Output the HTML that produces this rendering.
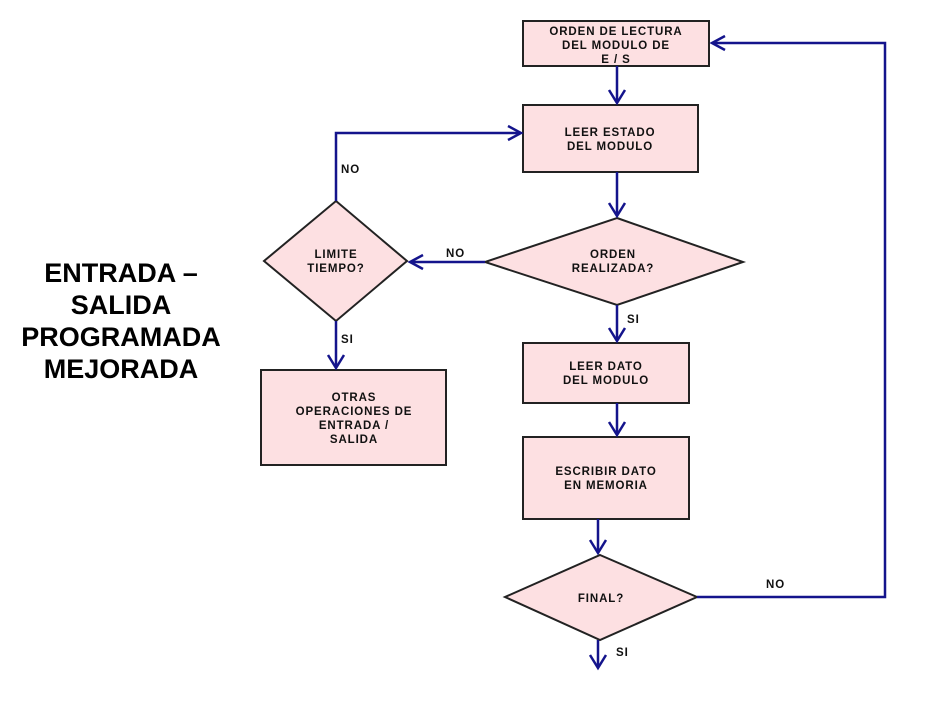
<!DOCTYPE html>
<html><head><meta charset="utf-8"><style>
html,body{margin:0;padding:0;background:#fff;}
svg{display:block;}
text{font-family:"Liberation Sans",sans-serif;font-weight:bold;}
.s{letter-spacing:0.9px;}
</style></head><body>
<svg width="937" height="704" viewBox="0 0 937 704" xmlns="http://www.w3.org/2000/svg">
<g fill="#fde0e2" stroke="#222" stroke-width="2">
<rect x="523" y="21" width="186" height="45"/>
<rect x="523" y="105" width="175" height="67"/>
<polygon points="617,218 743,262 617,305 485,262"/>
<polygon points="336,201 407,261 336,321 264,261"/>
<rect x="261" y="370" width="185" height="95"/>
<rect x="523" y="343" width="166" height="60"/>
<rect x="523" y="437" width="166" height="82"/>
<polygon points="600,555 697,597 600,640 505,597"/>
</g>
<g stroke="#14148c" stroke-width="2.5" fill="none">
<line x1="617" y1="66" x2="617" y2="103"/>
<polyline points="609,90 617,103 625,90"/>
<line x1="617" y1="172" x2="617" y2="216"/>
<polyline points="609,203 617,216 625,203"/>
<line x1="485" y1="262" x2="410" y2="262"/>
<polyline points="423,255 410,262 423,269"/>
<polyline points="336,201 336,133 521,133"/>
<polyline points="508,126 521,133 508,140"/>
<line x1="336" y1="321" x2="336" y2="368"/>
<polyline points="328,355 336,368 344,355"/>
<line x1="617" y1="305" x2="617" y2="341"/>
<polyline points="609,328 617,341 625,328"/>
<line x1="617" y1="403" x2="617" y2="435"/>
<polyline points="609,422 617,435 625,422"/>
<line x1="598" y1="519" x2="598" y2="553"/>
<polyline points="590,540 598,553 606,540"/>
<polyline points="697,597 885,597 885,43 712,43"/>
<polyline points="725,36 712,43 725,50"/>
<line x1="598" y1="640" x2="598" y2="668"/>
<polyline points="590,655 598,668 606,655"/>
</g>
<g class="s" font-size="11.5" fill="#111" text-anchor="middle">
<text x="616" y="35">ORDEN DE LECTURA</text>
<text x="616" y="49">DEL MODULO DE</text>
<text x="616" y="63">E / S</text>
<text x="610" y="136">LEER ESTADO</text>
<text x="610" y="150">DEL MODULO</text>
<text x="613" y="258">ORDEN</text>
<text x="613" y="272">REALIZADA?</text>
<text x="336" y="258">LIMITE</text>
<text x="336" y="272">TIEMPO?</text>
<text x="354" y="401">OTRAS</text>
<text x="354" y="415">OPERACIONES DE</text>
<text x="354" y="429">ENTRADA /</text>
<text x="354" y="443">SALIDA</text>
<text x="606" y="370">LEER DATO</text>
<text x="606" y="384">DEL MODULO</text>
<text x="606" y="475">ESCRIBIR DATO</text>
<text x="606" y="489">EN MEMORIA</text>
<text x="601" y="602">FINAL?</text>
</g>
<g class="s" font-size="11.5" fill="#111">
<text x="341" y="173">NO</text>
<text x="446" y="257">NO</text>
<text x="341" y="343">SI</text>
<text x="627" y="323">SI</text>
<text x="766" y="588">NO</text>
<text x="616" y="656">SI</text>
</g>
<g font-size="27" fill="#000" text-anchor="middle">
<text x="121" y="282">ENTRADA –</text>
<text x="121" y="314">SALIDA</text>
<text x="121" y="346">PROGRAMADA</text>
<text x="121" y="378">MEJORADA</text>
</g>
</svg>
</body></html>
